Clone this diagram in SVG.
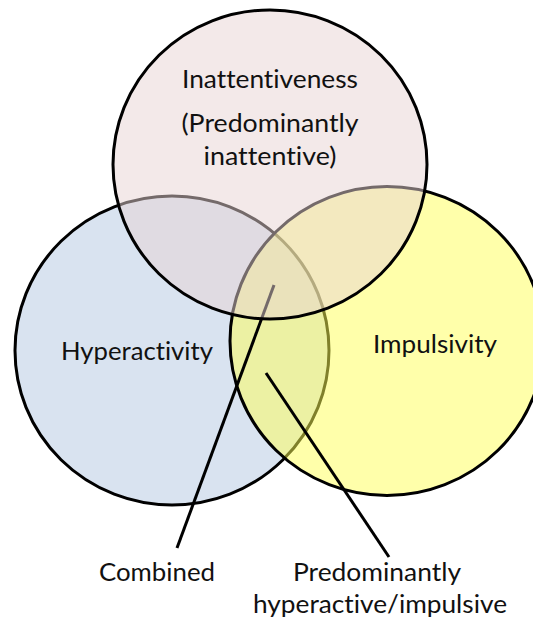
<svg xmlns="http://www.w3.org/2000/svg" width="533" height="622" viewBox="0 0 533 622">
  <style>
    .ring { stroke: #000; stroke-width: 3; }
    .lead { stroke: #000; stroke-width: 3; fill: none; }
    text { font-family: Lato, "Open Sans", "Liberation Sans", sans-serif; font-size: 24.5px; fill: #111; text-anchor: middle; font-variant-ligatures: none; font-feature-settings: "liga" 0, "clig" 0; }
  </style>
  <rect width="533" height="622" fill="#fff"/>

  <!-- Hyperactivity set (bottom layer, opaque) -->
  <g id="hyperactivity">
    <ellipse class="ring" cx="172" cy="350.5" rx="157" ry="154.5" fill="#D9E3F0"/>
    <text x="137" y="360" textLength="152" lengthAdjust="spacingAndGlyphs">Hyperactivity</text>
  </g>

  <!-- Impulsivity set (half-transparent fill over the blue set) -->
  <g id="impulsivity">
    <ellipse class="ring" cx="387" cy="341" rx="157" ry="154.5" fill="#FFFF55" fill-opacity="0.5"/>
    <text x="435" y="353" textLength="124" lengthAdjust="spacingAndGlyphs">Impulsivity</text>
  </g>

  <!-- Leader lines from the overlap regions to the subtype labels -->
  <g id="connectors">
    <line class="lead" x1="177" y1="548" x2="274" y2="285"/>
    <line class="lead" x1="266" y1="373" x2="389" y2="557"/>
  </g>

  <!-- Inattentiveness set (top layer, half-transparent fill) -->
  <g id="inattentiveness">
    <ellipse class="ring" cx="270" cy="164.5" rx="157" ry="154.5" fill="#E7D3D3" fill-opacity="0.5"/>
    <text x="270" y="88" textLength="176" lengthAdjust="spacingAndGlyphs">Inattentiveness</text>
    <text x="270" y="132" textLength="177" lengthAdjust="spacingAndGlyphs">(Predominantly</text>
    <text x="270" y="165" textLength="133" lengthAdjust="spacingAndGlyphs">inattentive)</text>
  </g>

  <!-- Subtype labels -->
  <g id="combined">
    <text x="157" y="581" textLength="116" lengthAdjust="spacingAndGlyphs">Combined</text>
  </g>
  <g id="hyperactive-impulsive">
    <text x="377" y="581" textLength="168" lengthAdjust="spacingAndGlyphs">Predominantly</text>
    <text x="380" y="613" textLength="254" lengthAdjust="spacingAndGlyphs">hyperactive/impulsive</text>
  </g>
</svg>
